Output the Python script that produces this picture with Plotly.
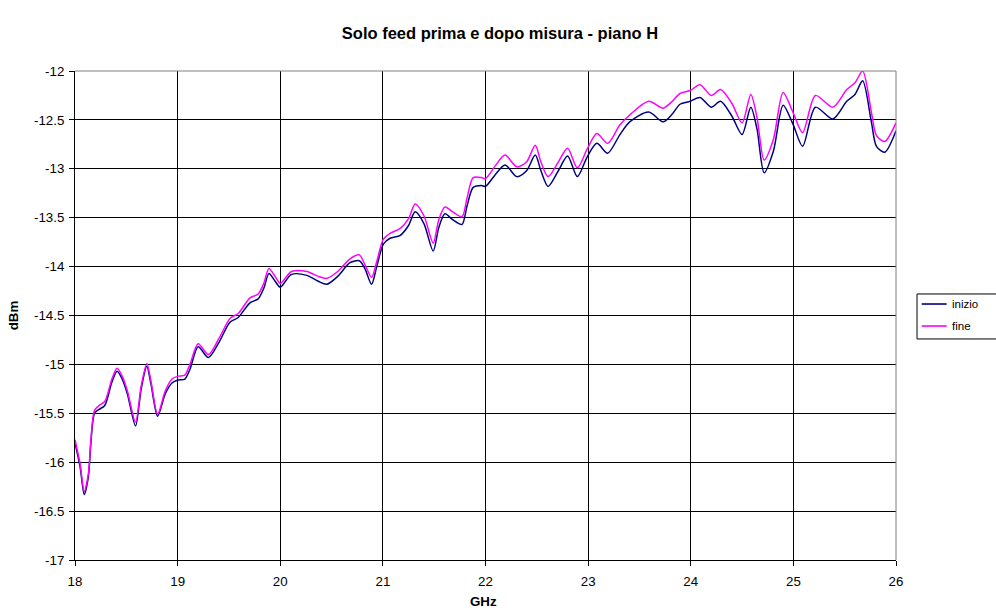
import plotly.graph_objects as go

# Frequency sweep (GHz) and measured levels (dBm)
freq_ghz = [
    18.00, 18.05, 18.09, 18.13, 18.155, 18.19, 18.235, 18.29, 18.36, 18.41,
    18.46, 18.51, 18.59, 18.645, 18.70, 18.74, 18.805, 18.88, 18.945, 19.005,
    19.07, 19.12, 19.20, 19.30, 19.40, 19.51, 19.59, 19.705, 19.785, 19.84,
    19.89, 19.95, 20.00, 20.11, 20.26, 20.37, 20.455, 20.56, 20.68, 20.77,
    20.825, 20.89, 20.94, 21.005, 21.07, 21.17, 21.25, 21.315, 21.40, 21.49,
    21.545, 21.605, 21.68, 21.77, 21.82, 21.88, 21.96, 22.00, 22.095, 22.19,
    22.305, 22.40, 22.485, 22.54, 22.61, 22.71, 22.80, 22.895, 22.99, 23.085,
    23.19, 23.31, 23.405, 23.59, 23.73, 23.82, 23.895, 23.995, 24.09, 24.20,
    24.29, 24.40, 24.50, 24.585, 24.645, 24.715, 24.805, 24.90, 24.995, 25.09,
    25.215, 25.385, 25.52, 25.60, 25.675, 25.76, 25.81, 25.89, 26.00,
]

inizio_dbm = [
    -15.80, -16.05, -16.33, -16.15, -15.80, -15.50, -15.46, -15.42, -15.18, -15.07,
    -15.15, -15.30, -15.63, -15.25, -15.02, -15.20, -15.53, -15.30, -15.19, -15.16,
    -15.15, -15.05, -14.82, -14.93, -14.78, -14.57, -14.52, -14.37, -14.33, -14.22,
    -14.07, -14.15, -14.21, -14.08, -14.09, -14.15, -14.18, -14.10, -13.96, -13.94,
    -14.02, -14.18, -14.00, -13.77, -13.71, -13.68, -13.58, -13.44, -13.56, -13.84,
    -13.60, -13.46, -13.52, -13.57, -13.38, -13.19, -13.17, -13.18, -13.06, -12.96,
    -13.08, -13.02, -12.86, -13.02, -13.18, -13.02, -12.87, -13.08, -12.88, -12.74,
    -12.84, -12.65, -12.52, -12.42, -12.52, -12.44, -12.34, -12.31, -12.27, -12.37,
    -12.31, -12.46, -12.65, -12.37, -12.59, -13.04, -12.82, -12.35, -12.54, -12.77,
    -12.37, -12.49, -12.31, -12.24, -12.10, -12.52, -12.77, -12.83, -12.61,
]

fine_dbm = [
    -15.77, -16.02, -16.30, -16.12, -15.77, -15.47, -15.42, -15.38, -15.15, -15.04,
    -15.12, -15.27, -15.59, -15.22, -14.99, -15.17, -15.51, -15.27, -15.15, -15.12,
    -15.11, -15.00, -14.79, -14.90, -14.74, -14.53, -14.48, -14.32, -14.28, -14.17,
    -14.02, -14.10, -14.17, -14.05, -14.05, -14.10, -14.12, -14.05, -13.92, -13.88,
    -13.98, -14.11, -13.95, -13.72, -13.66, -13.61, -13.51, -13.36, -13.48, -13.76,
    -13.52, -13.39, -13.44, -13.49, -13.30, -13.09, -13.09, -13.10, -12.97, -12.86,
    -12.98, -12.93, -12.76, -12.93, -13.08, -12.93, -12.79, -12.99, -12.80, -12.64,
    -12.74, -12.55, -12.45, -12.31, -12.38, -12.31, -12.23, -12.20, -12.14, -12.25,
    -12.19, -12.33, -12.53, -12.24, -12.47, -12.91, -12.70, -12.22, -12.42, -12.63,
    -12.25, -12.37, -12.19, -12.12, -12.00, -12.42, -12.66, -12.72, -12.53,
]

x_tickvals = [18, 19, 20, 21, 22, 23, 24, 25, 26]
x_ticktext = ["18", "19", "20", "21", "22", "23", "24", "25", "26"]
y_tickvals = [-17, -16.5, -16, -15.5, -15, -14.5, -14, -13.5, -13, -12.5, -12]
y_ticktext = ["-17", "-16.5", "-16", "-15.5", "-15", "-14.5", "-14", "-13.5", "-13", "-12.5", "-12"]

series_names = ["inizio", "fine"]
series_values = [inizio_dbm, fine_dbm]
series_colors = ["#000080", "#FF00FF"]

font_family = "Liberation Sans, Arial, sans-serif"

fig = go.Figure()
for name, values, color in zip(series_names, series_values, series_colors):
    fig.add_trace(go.Scatter(
        x=freq_ghz, y=values, name=name, mode="lines",
        line=dict(color=color, width=1.5, shape="spline", smoothing=0.8),
        showlegend=False,
    ))

axis_common = dict(
    showgrid=True, gridcolor="black", gridwidth=1,
    showline=True, linecolor="black", linewidth=1,
    ticks="outside", ticklen=5, tickcolor="black", tickwidth=1,
    zeroline=False, automargin=False,
    tickfont=dict(family=font_family, size=13.3, color="black"),
)

fig.update_layout(
    width=996, height=610,
    paper_bgcolor="white", plot_bgcolor="white",
    margin=dict(l=75, r=100, t=71, b=50),
    font=dict(family=font_family, color="black"),
    title=dict(
        text="<b>Solo feed prima e dopo misura - piano H</b>",
        font=dict(family=font_family, size=16.5, color="black"),
        x=0.502, xanchor="center", y=0.946, yanchor="middle",
    ),
    xaxis=dict(
        range=[18, 26], tickvals=x_tickvals, ticktext=x_ticktext,
        ticklabelstandoff=4,
        **axis_common,
    ),
    yaxis=dict(
        range=[-17, -12], tickvals=y_tickvals, ticktext=y_ticktext,
        ticklabelstandoff=2,
        **axis_common,
    ),
    showlegend=False,
)

# Axis titles
fig.add_annotation(xref="paper", yref="paper", x=0.497, y=-0.084,
                   xanchor="center", yanchor="middle", showarrow=False,
                   text="<b>GHz</b>", font=dict(family=font_family, size=13.3, color="black"))
fig.add_annotation(xref="paper", yref="paper", x=-0.0745, y=0.50,
                   xanchor="center", yanchor="middle", showarrow=False, textangle=-90,
                   text="<b>dBm</b>", font=dict(family=font_family, size=13.3, color="black"))

# Grey frame on the top and right sides of the plot area
fig.add_shape(type="line", xref="paper", yref="paper", x0=0, x1=1, y0=1, y1=1,
              line=dict(color="#808080", width=1), layer="above")
fig.add_shape(type="line", xref="paper", yref="paper", x0=1, x1=1, y0=0, y1=1,
              line=dict(color="#808080", width=1), layer="above")

# Legend box to the right of the plot area
fig.add_shape(type="rect", xref="paper", yref="paper",
              x0=1.0256, x1=1.20, y0=0.452, y1=0.544,
              line=dict(color="black", width=1), fillcolor="white")
legend_rows_y = [0.5235, 0.4785]
for name, color, ly in zip(series_names, series_colors, legend_rows_y):
    fig.add_shape(type="line", xref="paper", yref="paper",
                  x0=1.0313, x1=1.0617, y0=ly, y1=ly,
                  line=dict(color=color, width=1.6))
    fig.add_annotation(xref="paper", yref="paper", x=1.0655, y=ly,
                       xanchor="left", yanchor="middle", showarrow=False,
                       text=name, font=dict(family=font_family, size=11.5, color="black"))

fig.write_html("out.html")
